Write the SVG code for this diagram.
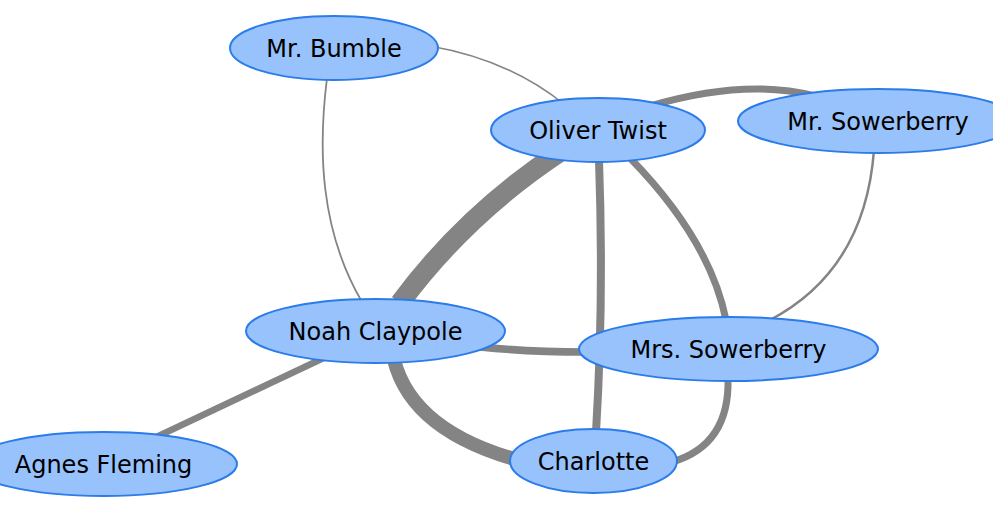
<svg xmlns="http://www.w3.org/2000/svg" width="993" height="521" viewBox="0 0 993 521">
<style>
.edge{fill:none;stroke:#848484;stroke-linecap:butt}
.node ellipse{fill:#97C2FC;stroke:#2B7CE9;stroke-width:2}
.node text{font-family:"DejaVu Sans",Verdana,sans-serif;font-size:24px;fill:#000;text-anchor:middle}
</style>
<rect width="993" height="521" fill="#fff"/>
<g id="edges">
<path class="edge" stroke-width="1.5" d="M 430 46 Q 510 60 565 105"/>
<path class="edge" stroke-width="1.8" d="M 327 78 C 318 150 320 230 362 302"/>
<path class="edge" stroke-width="20" d="M 560 152 Q 465 215 400 303"/>
<path class="edge" stroke-width="7" d="M 650 106 Q 745 78 815 96"/>
<path class="edge" stroke-width="8" d="M 599 160 Q 604 300 596 432"/>
<path class="edge" stroke-width="7" d="M 630 158 Q 710 240 726 320"/>
<path class="edge" stroke-width="2.5" d="M 874 150 Q 865 270 770 320"/>
<path class="edge" stroke-width="7.5" d="M 480 347 Q 530 352 585 352"/>
<path class="edge" stroke-width="14" d="M 392 350 C 400 400 440 440 525 462"/>
<path class="edge" stroke-width="6.5" d="M 330 355 L 150 440"/>
<path class="edge" stroke-width="7" d="M 728 378 Q 730 445 672 462"/>
</g>
<g id="node-bumble" class="node"><ellipse cx="334" cy="48" rx="104" ry="32"/><text x="334" y="56.5">Mr. Bumble</text></g>
<g id="node-oliver" class="node"><ellipse cx="598" cy="130" rx="107" ry="32"/><text x="598" y="138.5">Oliver Twist</text></g>
<g id="node-mrsowerberry" class="node"><ellipse cx="878" cy="121" rx="140" ry="32"/><text x="878" y="129.5">Mr. Sowerberry</text></g>
<g id="node-noah" class="node"><ellipse cx="375.5" cy="331" rx="129.5" ry="32"/><text x="375.5" y="339.5">Noah Claypole</text></g>
<g id="node-mrssowerberry" class="node"><ellipse cx="728.5" cy="349" rx="149.5" ry="32"/><text x="728.5" y="357.5">Mrs. Sowerberry</text></g>
<g id="node-agnes" class="node"><ellipse cx="103.5" cy="464" rx="133.5" ry="32"/><text x="103.5" y="472.5">Agnes Fleming</text></g>
<g id="node-charlotte" class="node"><ellipse cx="593.5" cy="461" rx="83.5" ry="32"/><text x="593.5" y="469.5">Charlotte</text></g>
</svg>
